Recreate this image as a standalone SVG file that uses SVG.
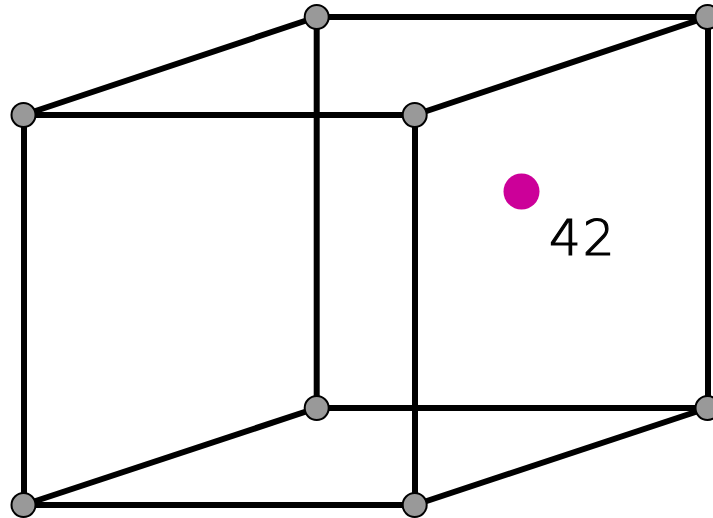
<svg xmlns="http://www.w3.org/2000/svg" width="713" height="518" viewBox="0 0 713 518">
<style>
.e{stroke:#000;stroke-width:6;fill:none}
.n{fill:#999;stroke:#000;stroke-width:2}
.l{font-family:"DejaVu Sans ExtraLight","DejaVu Sans",sans-serif;font-weight:200;font-size:50px;letter-spacing:2px;fill:#000;stroke:#000;stroke-width:1.2px}
</style>
<rect width="713" height="518" fill="#fff"/>
<g id="connectors">
<line class="e" x1="23.5" y1="115" x2="316.7" y2="17"/>
<line class="e" x1="23.5" y1="115" x2="414.7" y2="115"/>
<line class="e" x1="24" y1="115" x2="24" y2="505"/>
<line class="e" x1="316.7" y1="17" x2="708" y2="17"/>
<line class="e" x1="316.7" y1="17" x2="316.7" y2="408"/>
<line class="e" x1="414.7" y1="115" x2="707.5" y2="17"/>
<line class="e" x1="415" y1="115" x2="415" y2="505"/>
<line class="e" x1="708" y1="17" x2="708" y2="408"/>
<line class="e" x1="23.5" y1="505" x2="316.7" y2="408"/>
<line class="e" x1="23.5" y1="505" x2="414.7" y2="505"/>
<line class="e" x1="316.7" y1="408" x2="708" y2="408"/>
<line class="e" x1="414.7" y1="505" x2="707.5" y2="408"/>
</g>
<g id="node-a"><circle class="n" cx="23.5" cy="115" r="12"/></g>
<g id="node-b"><circle class="n" cx="316.7" cy="17" r="12"/></g>
<g id="node-c"><circle class="n" cx="414.7" cy="115" r="12"/></g>
<g id="node-d"><circle class="n" cx="707.5" cy="17" r="12"/></g>
<g id="node-e"><circle class="n" cx="23.5" cy="505" r="12"/></g>
<g id="node-f"><circle class="n" cx="316.7" cy="408" r="12"/></g>
<g id="node-g"><circle class="n" cx="414.7" cy="505" r="12"/></g>
<g id="node-h"><circle class="n" cx="707.5" cy="408" r="12"/></g>
<g id="marker"><circle cx="521.5" cy="191.5" r="18" fill="#cc0099"/><text class="l" x="549" y="255">42</text></g>
</svg>
